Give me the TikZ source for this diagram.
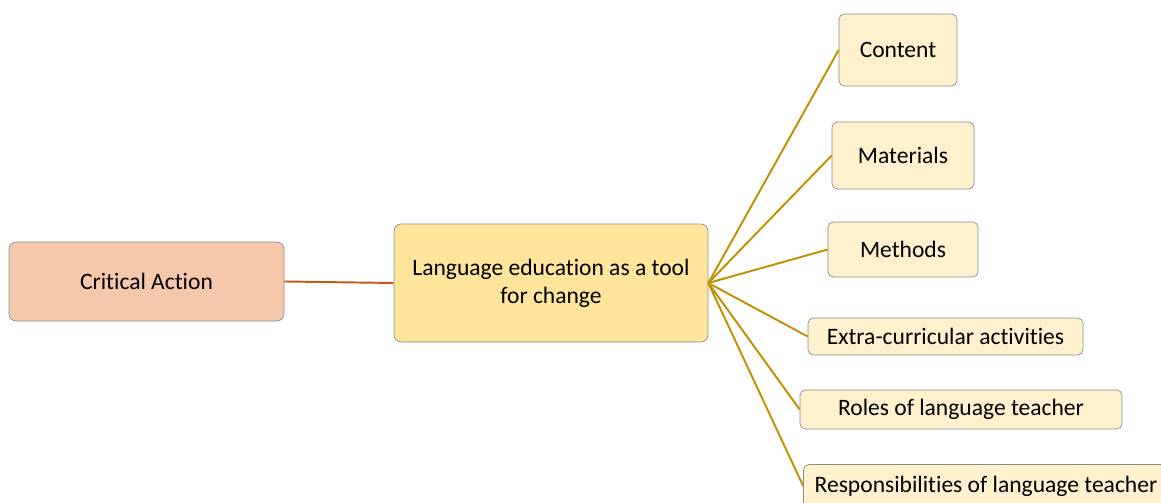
\documentclass[tikz,border=0pt]{standalone}
\usepackage{fontspec}
\setmainfont{Carlito}[Ligatures=NoCommon]
\usepackage{xcolor}
\usetikzlibrary{positioning}
\definecolor{actfill}{HTML}{F5C7AB}
\definecolor{mainfill}{HTML}{FFE49C}
\definecolor{leaffill}{HTML}{FFF1CE}
\definecolor{edgegray}{HTML}{8C8C8C}
\definecolor{actline}{HTML}{C55A11}
\definecolor{leafline}{HTML}{BF9000}

\begin{document}
\begin{tikzpicture}[x=0.02cm,y=-0.02cm,
    box/.style={draw=edgegray,rounded corners=4pt,align=center,inner sep=0pt,font=\fontsize{13.4}{16}\selectfont},
    leaf/.style={box,fill=leaffill,rounded corners=3pt},
    conn/.style={line width=1.1pt}
  ]
    \useasboundingbox (0,0) rectangle (1161,503);
    \node[box,fill=actfill,minimum width=5.5cm,minimum height=1.58cm] (act) at (146.5,281.5) {Critical Action};
    \node[box,fill=mainfill,minimum width=6.28cm,minimum height=2.36cm] (tool) at (551,283) {Language education as a tool\\for change};
    \node[leaf,minimum width=2.36cm,minimum height=1.44cm] (content) at (898,50) {Content};
    \node[leaf,minimum width=2.84cm,minimum height=1.34cm] (materials) at (903,155.5) {Materials};
    \node[leaf,minimum width=3.0cm,minimum height=1.1cm] (methods) at (903,249.5) {Methods};
    \node[leaf,minimum width=5.5cm,minimum height=0.74cm] (extra) at (945.5,336.5) {Extra-curricular activities};
    \node[leaf,minimum width=6.44cm,minimum height=0.78cm] (roles) at (961,409.5) {Roles of language teacher};
    \node[leaf,minimum width=7.3cm,minimum height=0.86cm] (resp) at (986,486) {Responsibilities of language teacher};
    \draw[conn,actline] (act.east) -- (tool.west);
    \foreach \n in {content,materials,methods,extra,roles,resp}
      \draw[conn,leafline] (tool.east) -- (\n.west);
  \end{tikzpicture}
\end{document}
